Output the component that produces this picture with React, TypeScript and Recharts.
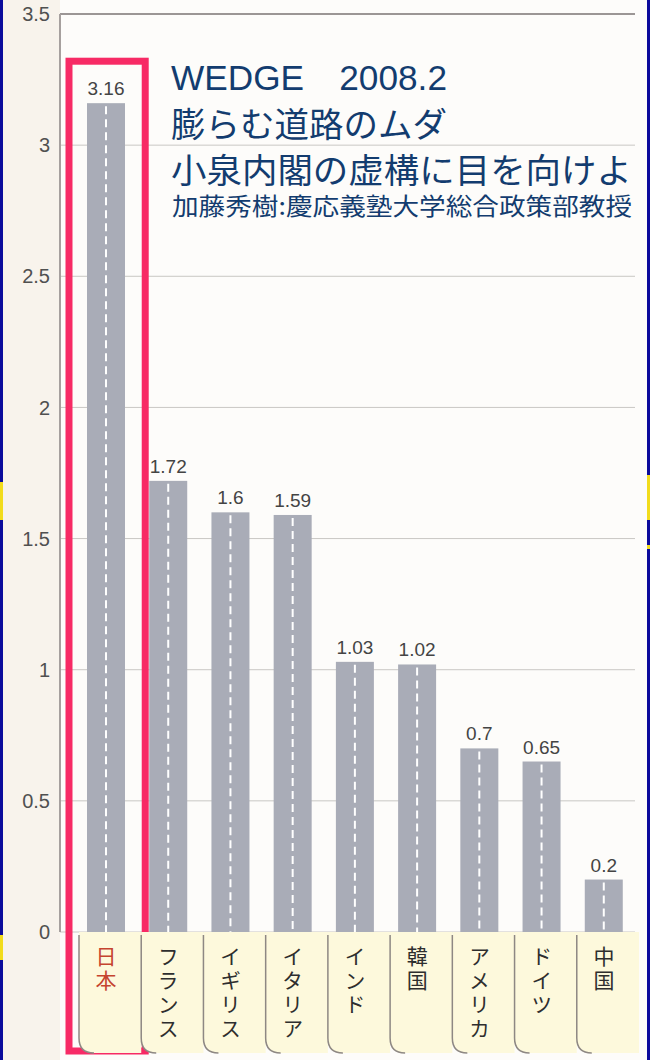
import {
  BarChart,
  Bar,
  XAxis,
  YAxis,
  CartesianGrid,
  LabelList,
  ReferenceArea,
  ReferenceLine,
} from 'recharts'

// 道路延長あたりの比率（国別）
const countries = ['日本', 'フランス', 'イギリス', 'イタリア', 'インド', '韓国', 'アメリカ', 'ドイツ', '中国']
const ratios = [3.16, 1.72, 1.6, 1.59, 1.03, 1.02, 0.7, 0.65, 0.2]
const yTicks = [0, 0.5, 1, 1.5, 2, 2.5, 3, 3.5]
const highlighted = '日本'
const highlightTop = 3.32

const titleMain = 'WEDGE　2008.2'
const titleSub1 = '膨らむ道路のムダ'
const titleSub2 = '小泉内閣の虚構に目を向けよ'
const byline = '加藤秀樹:慶応義塾大学総合政策部教授'

const data = countries.map((name, i) => ({ name, value: ratios[i] }))

const W = 650
const H = 1060
const AXIS_H = 128
const TAB_H = 121

const BAR = '#a9acb7'
const NAVY = '#133c6f'
const PINK = '#f72a65'
const SANS = '"Liberation Sans", Arial, sans-serif'
const JP = '"Noto Sans CJK JP", "Noto Sans", sans-serif'

function RoadBar(props: any) {
  const { x, y, width, height } = props
  if (!height || height <= 0) return null
  const cx = x + width / 2
  return (
    <g>
      <rect x={x} y={y} width={width} height={height} fill={BAR} />
      <line
        x1={cx}
        x2={cx}
        y1={y + 3}
        y2={y + height}
        stroke="#ffffff"
        strokeWidth={2}
        strokeDasharray="8 5"
      />
    </g>
  )
}

// 国名のタブ（縦書き）
function TabTick(props: any) {
  const { x, y, payload } = props
  const half = payload.offset || 31
  const left = x - half + 4
  const right = x + half + 4
  const bottom = y + TAB_H
  const r = 15
  const color = payload.value === highlighted ? '#c5442f' : '#2e2e2e'
  return (
    <g>
      <path
        d={`M${left},${y} H${right} V${bottom} H${left + r} Q${left},${bottom} ${left},${bottom - r} Z`}
        fill="#fdf9dc"
      />
      <path
        d={`M${left},${y + 3} V${bottom - r} Q${left},${bottom} ${left + r},${bottom}`}
        fill="none"
        stroke="#8e8883"
        strokeWidth={1.5}
      />
      <text
        x={x}
        y={y + 14}
        textAnchor="start"
        fontSize={21}
        fontFamily={JP}
        fill={color}
        style={{ writingMode: 'vertical-rl', letterSpacing: 3 }}
      >
        {payload.value}
      </text>
    </g>
  )
}

function HighlightBox(props: any) {
  const { x, y, width, height } = props
  return (
    <rect
      x={x - 6}
      y={y}
      width={width + 14}
      height={height + TAB_H - 2}
      fill="none"
      stroke={PINK}
      strokeWidth={7}
    />
  )
}

export default function App() {
  return (
    <div
      style={{
        position: 'absolute',
        left: 0,
        top: 0,
        width: W,
        height: H,
        background: 'linear-gradient(to right, #f8f3ec 0px, #f8f3ec 60px, #fdfcfa 60px)',
        overflow: 'hidden',
      }}
    >
      <BarChart
        width={W}
        height={H}
        data={data}
        margin={{ top: 14, right: 15, bottom: 0, left: 0 }}
        barSize={38}
      >
        <CartesianGrid vertical={false} stroke="#c9c7c4" />
        <ReferenceLine y={3.5} stroke="#9b9695" strokeWidth={2} />
        <XAxis
          dataKey="name"
          height={AXIS_H}
          padding={{ left: 15, right: 0 }}
          axisLine={false}
          tickLine={false}
          tickSize={0}
          tickMargin={0}
          interval={0}
          tick={<TabTick />}
        />
        <YAxis
          width={60}
          domain={[0, 3.5]}
          ticks={yTicks}
          axisLine={{ stroke: '#a6a09e', strokeWidth: 2 }}
          tickLine={false}
          tickSize={0}
          tickMargin={10}
          tick={{ fontSize: 20, fill: '#505050', fontFamily: SANS }}
        />
        <Bar dataKey="value" shape={<RoadBar />} isAnimationActive={false}>
          <LabelList
            dataKey="value"
            position="top"
            offset={8}
            style={{ fontSize: 19, fill: '#444444', fontFamily: SANS }}
          />
        </Bar>
        <ReferenceArea
          x1={highlighted}
          x2={highlighted}
          y1={0}
          y2={highlightTop}
          ifOverflow="visible"
          shape={<HighlightBox />}
        />
      </BarChart>

      <svg
        width={W}
        height={H}
        style={{ position: 'absolute', left: 0, top: 0, pointerEvents: 'none' }}
      >
        <text x={171} y={90} fontSize={35} fill={NAVY} fontFamily={SANS} textLength={276} lengthAdjust="spacingAndGlyphs">
          {titleMain}
        </text>
        <text x={171} y={137} fontSize={34} fill={NAVY} fontFamily={JP} textLength={276} lengthAdjust="spacingAndGlyphs">
          {titleSub1}
        </text>
        <text x={171} y={183} fontSize={34} fill={NAVY} fontFamily={JP} textLength={461} lengthAdjust="spacingAndGlyphs">
          {titleSub2}
        </text>
        <text x={172} y={215} fontSize={24} fill={NAVY} fontFamily={JP} textLength={460} lengthAdjust="spacingAndGlyphs">
          {byline}
        </text>
        {/* slide frame */}
        <rect x={0} y={0} width={3} height={H} fill="#0b0b9c" />
        <rect x={647} y={0} width={3} height={H} fill="#0b0b9c" />
        <rect x={0} y={482} width={3} height={38} fill="#f2dc1c" />
        <rect x={0} y={935} width={3} height={25} fill="#f2dc1c" />
        <rect x={647} y={475} width={3} height={45} fill="#f2dc1c" />
        <rect x={647} y={545} width={3} height={4} fill="#f2dc1c" />
      </svg>
    </div>
  )
}
